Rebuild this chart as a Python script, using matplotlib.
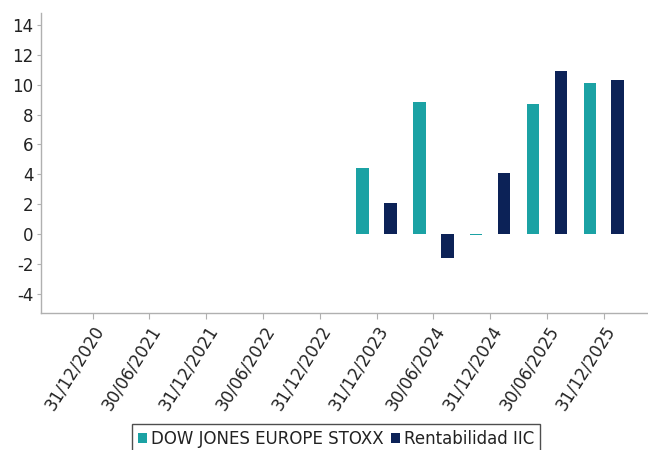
import numpy as np
import matplotlib
matplotlib.use('Agg')
import matplotlib.pyplot as plt

plt.rcParams['font.family'] = ['DejaVu Sans']
plt.rcParams['axes.unicode_minus'] = False

# fechas del eje x y rentabilidades (%)
fechas = ['31/12/2020', '30/06/2021', '31/12/2021', '30/06/2022', '31/12/2022',
          '31/12/2023', '30/06/2024', '31/12/2024', '30/06/2025', '31/12/2025']
indice = [np.nan, np.nan, np.nan, np.nan, np.nan, 4.42, 8.81, -0.05, 8.73, 10.09]
rent_iic = [np.nan, np.nan, np.nan, np.nan, np.nan, 2.05, -1.61, 4.10, 10.94, 10.33]

col_indice = '#1ba2a4'
col_iic = '#0c2257'
gris = '#b0b0b0'
texto = '#222222'

fig = plt.figure(figsize=(6.48, 4.5), dpi=100)
ax = fig.add_axes([0.0628, 0.3044, 0.9372, 0.6666])

x = np.arange(len(fechas))
ancho = 0.22
ax.bar(x - 0.245, indice, width=ancho, color=col_indice, label='DOW JONES EUROPE STOXX')
ax.bar(x + 0.245, rent_iic, width=ancho, color=col_iic, label='Rentabilidad IIC')

ax.set_xlim(-0.915, 9.78)
ax.set_ylim(-5.3, 14.8)
ax.set_yticks(np.arange(-4, 15, 2))
ax.set_xticks(x)
ax.set_xticklabels(fechas, rotation=58, ha='right', rotation_mode='anchor', fontsize=12)
ax.tick_params(axis='y', labelsize=12, length=3, color=gris, labelcolor=texto, pad=2)
ax.tick_params(axis='x', length=4, color=gris, labelcolor=texto, pad=3)

for s in ['top', 'right']:
    ax.spines[s].set_visible(False)
for s in ['left', 'bottom']:
    ax.spines[s].set_color(gris)
    ax.spines[s].set_linewidth(1)

leg = fig.legend(loc='upper center', bbox_to_anchor=(0.5185, 0.0585), ncol=2,
                 fontsize=12, frameon=True, fancybox=False, edgecolor='#222222',
                 handlelength=0.55, handleheight=0.55, handletextpad=0.25,
                 columnspacing=0.4, borderpad=0.35, borderaxespad=0)
leg.get_frame().set_linewidth(1)
for t in leg.get_texts():
    t.set_color(texto)

fig.savefig('out.png', dpi=100)
